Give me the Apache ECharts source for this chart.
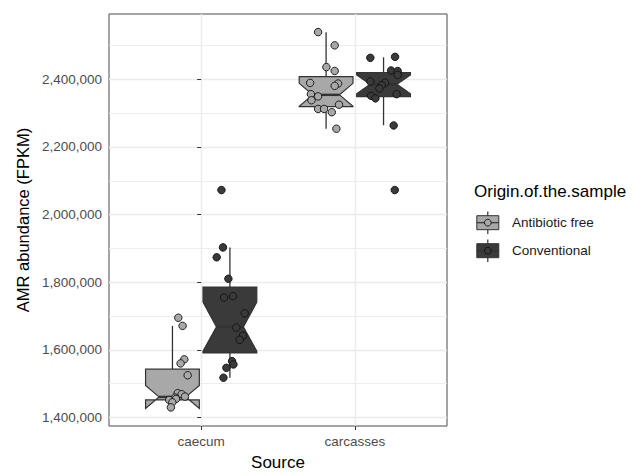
<!DOCTYPE html>
<html>
<head>
<meta charset="utf-8">
<script src="https://cdn.jsdelivr.net/npm/echarts@6/dist/echarts.min.js"></script>
<style>
  html, body { margin: 0; padding: 0; background: #ffffff; }
  #chart { width: 634px; height: 476px; }
</style>
</head>
<body>
<div id="chart"></div>
<script>
// ---------------- data ----------------
const categories = ['caecum', 'carcasses'];
const groups = ['Antibiotic free', 'Conventional'];
const yTickValues = [1400000, 1600000, 1800000, 2000000, 2200000, 2400000];

// box statistics per category: [whiskerLow, q1, notchLow, median, notchHigh, q3, whiskerHigh]
const antibioticFreeBoxes = [
  [1430000, 1452000, 1427000, 1461000, 1495000, 1543000, 1671000],
  [2254000, 2319000, 2320000, 2354000, 2388000, 2408000, 2539000]
];
const conventionalBoxes = [
  [1518000, 1591000, 1596000, 1668000, 1741000, 1786000, 1903000],
  [2264000, 2349000, 2357000, 2385000, 2413000, 2420000, 2465000]
];

// individual samples (values) and their jitter offsets (in category units)
const afCaecumValues = [1695000, 1671000, 1572000, 1560000, 1525000, 1472000, 1469000, 1462000, 1459000, 1455000, 1452000, 1445000, 1430000];
const afCaecumJitter = [0.038, 0.066, 0.077, 0.053, 0.099, 0.034, 0.060, 0.081, 0.018, 0.023, -0.021, -0.001, -0.010];

const convCaecumValues = [2072500, 1903000, 1873700, 1810300, 1758800, 1754700, 1708000, 1666000, 1641800, 1630000, 1566700, 1556900, 1547000, 1517800];
const convCaecumJitter = [-0.055, -0.045, -0.086, -0.010, 0.020, -0.038, 0.096, 0.042, 0.085, 0.064, 0.014, 0.023, -0.023, -0.042];

const afCarcassesValues = [2539500, 2500300, 2436000, 2424600, 2389300, 2387400, 2380500, 2356100, 2349400, 2338000, 2324900, 2312300, 2312300, 2302600, 2253800];
const afCarcassesJitter = [-0.052, 0.056, 0.002, 0.056, -0.104, 0.078, 0.056, -0.099, -0.052, -0.095, 0.084, -0.052, -0.013, 0.037, 0.067];

const convCarcassesValues = [2466300, 2463400, 2426000, 2424300, 2413000, 2393400, 2390000, 2382500, 2372800, 2356100, 2351200, 2343600, 2263500, 2072500];
const convCarcassesJitter = [0.075, -0.086, 0.049, 0.092, 0.092, -0.086, 0.010, -0.012, -0.027, 0.085, -0.081, -0.053, 0.066, 0.073];

// ---------------- styling / layout ----------------
const FONT = '"Liberation Sans", Arial, Helvetica, sans-serif';
const COLORS = ['#a8a8a8', '#3a3a3a'];
const OUTLINE = '#333333';
const DODGE = 0.187;
const BOX_WIDTH = 0.35;
const GRID_COLOR = '#ebebeb';

function fmt(v) {
  return String(Math.round(v)).replace(/\B(?=(\d{3})+(?!\d))/g, ',');
}

function boxData(boxes, offset) {
  return boxes.map((b, i) => [i + offset].concat(b));
}
function pointData(values, jitter, cat, offset) {
  return values.map((v, i) => [cat + offset + jitter[i], v]);
}

function makeRenderer(fill) {
  return function (params, api) {
    const x = api.value(0);
    const lo = api.value(1), q1 = api.value(2), nl = api.value(3), med = api.value(4),
          nu = api.value(5), q3 = api.value(6), hi = api.value(7);
    const cx = api.coord([x, med])[0];
    const halfW = api.coord([x + BOX_WIDTH / 2, med])[0] - cx;
    const Y = v => api.coord([x, v])[1];
    const xmin = cx - halfW, xmax = cx + halfW, inset = halfW / 2;
    const pts = [
      [xmin, Y(q3)], [xmin, Y(nu)], [xmin + inset, Y(med)], [xmin, Y(nl)], [xmin, Y(q1)],
      [xmax, Y(q1)], [xmax, Y(nl)], [xmax - inset, Y(med)], [xmax, Y(nu)], [xmax, Y(q3)]
    ];
    return {
      type: 'group',
      children: [
        { type: 'line', shape: { x1: cx, y1: Y(q3), x2: cx, y2: Y(hi) }, style: { stroke: OUTLINE, lineWidth: 1.3 } },
        { type: 'line', shape: { x1: cx, y1: Y(q1), x2: cx, y2: Y(lo) }, style: { stroke: OUTLINE, lineWidth: 1.3 } },
        { type: 'polygon', shape: { points: pts }, style: { fill: fill, stroke: OUTLINE, lineWidth: 1.2 } },
        { type: 'line', shape: { x1: xmin + inset, y1: Y(med), x2: xmax - inset, y2: Y(med) }, style: { stroke: OUTLINE, lineWidth: 2.4 } }
      ]
    };
  };
}

// gridlines (major at ticks, minor midway)
const gridLines = [];
yTickValues.forEach(v => gridLines.push({ yAxis: v, lineStyle: { width: 1.4 } }));
for (let i = 0; i < yTickValues.length; i++) {
  const step = i + 1 < yTickValues.length ? yTickValues[i + 1] - yTickValues[i] : yTickValues[i] - yTickValues[i - 1];
  gridLines.push({ yAxis: yTickValues[i] + step / 2, lineStyle: { width: 0.9 } });
}
categories.forEach((c, i) => gridLines.push({ xAxis: i, lineStyle: { width: 1.4 } }));

// legend key graphics
const KEY_CX = 487.8;
const KEY_CY = [222.7, 250.7];
const legendGraphics = [];
groups.forEach((g, i) => {
  const cy = KEY_CY[i];
  legendGraphics.push(
    { type: 'line', shape: { x1: KEY_CX, y1: cy - 11.2, x2: KEY_CX, y2: cy + 11.2 }, style: { stroke: OUTLINE, lineWidth: 1.2 }, z: 10 },
    { type: 'rect', shape: { x: KEY_CX - 11, y: cy - 7, width: 22, height: 14 }, style: { fill: COLORS[i], stroke: OUTLINE, lineWidth: 1 }, z: 10 },
    { type: 'line', shape: { x1: KEY_CX - 11, y1: cy, x2: KEY_CX + 11, y2: cy }, style: { stroke: OUTLINE, lineWidth: 1.2 }, z: 11 },
    { type: 'circle', shape: { cx: KEY_CX, cy: cy, r: 3.4 }, style: { fill: COLORS[i], stroke: '#111', lineWidth: 0.9 }, z: 12 }
  );
});

const chart = echarts.init(document.getElementById('chart'), null, { renderer: 'svg' });

const option = {
  animation: false,
  backgroundColor: '#ffffff',
  textStyle: { fontFamily: FONT },
  title: {
    text: 'Origin.of.the.sample',
    left: 474,
    top: 183,
    padding: 0,
    textStyle: { fontSize: 17, fontWeight: 'normal', color: '#000000', fontFamily: FONT }
  },
  legend: {
    orient: 'vertical',
    left: 477,
    top: 208.7,
    padding: 0,
    itemGap: 0,
    itemWidth: 30,
    itemHeight: 28,
    selectedMode: false,
    icon: 'rect',
    itemStyle: { color: 'rgba(0,0,0,0)', borderColor: 'rgba(0,0,0,0)', borderWidth: 0 },
    textStyle: { fontSize: 13.5, color: '#1a1a1a', fontFamily: FONT },
    data: groups
  },
  graphic: legendGraphics,
  grid: {
    left: 109,
    top: 14,
    right: 187,
    bottom: 45.5,
    show: true,
    backgroundColor: '#ffffff',
    borderColor: '#4a4a4a',
    borderWidth: 1
  },
  xAxis: {
    type: 'value',
    min: -0.6,
    max: 1.6,
    name: 'Source',
    nameLocation: 'middle',
    nameGap: 28,
    nameTextStyle: { fontSize: 17, color: '#000000', fontFamily: FONT },
    axisLine: { show: false },
    splitLine: { show: false },
    axisTick: { show: true, customValues: [0, 1], length: 4, lineStyle: { color: '#333333', width: 1 } },
    axisLabel: {
      customValues: [0, 1],
      formatter: v => categories[Math.round(v)],
      margin: 8,
      fontSize: 13.5,
      color: '#4d4d4d',
      fontFamily: FONT
    }
  },
  yAxis: {
    type: 'value',
    min: 1375000,
    max: 2593000,
    name: 'AMR abundance (FPKM)',
    nameLocation: 'middle',
    nameGap: 76,
    nameRotate: 90,
    nameTextStyle: { fontSize: 16.5, color: '#000000', fontFamily: FONT },
    axisLine: { show: false },
    splitLine: { show: false },
    axisTick: { show: true, customValues: yTickValues, length: 4, lineStyle: { color: '#333333', width: 1 } },
    axisLabel: {
      customValues: yTickValues,
      formatter: v => fmt(v),
      margin: 7,
      fontSize: 13.5,
      color: '#4d4d4d',
      fontFamily: FONT
    }
  },
  series: [
    {
      type: 'line',
      name: '_grid',
      data: [],
      silent: true,
      z: 0,
      markLine: {
        silent: true,
        z: 0,
        symbol: ['none', 'none'],
        label: { show: false },
        lineStyle: { color: GRID_COLOR, type: 'solid' },
        emphasis: { disabled: true },
        data: gridLines
      }
    },
    {
      type: 'custom',
      name: groups[0],
      renderItem: makeRenderer(COLORS[0]),
      data: boxData(antibioticFreeBoxes, -DODGE),
      encode: { x: 0, y: [1, 2, 3, 4, 5, 6, 7] },
      itemStyle: { color: COLORS[0] },
      z: 6,
      silent: true
    },
    {
      type: 'custom',
      name: groups[1],
      renderItem: makeRenderer(COLORS[1]),
      data: boxData(conventionalBoxes, DODGE),
      encode: { x: 0, y: [1, 2, 3, 4, 5, 6, 7] },
      itemStyle: { color: COLORS[1] },
      z: 6,
      silent: true
    },
    {
      type: 'scatter',
      name: groups[0],
      data: pointData(afCaecumValues, afCaecumJitter, 0, -DODGE)
        .concat(pointData(afCarcassesValues, afCarcassesJitter, 1, -DODGE)),
      symbolSize: 7.5,
      itemStyle: { color: COLORS[0], borderColor: '#111111', borderWidth: 0.9, opacity: 1 },
      z: 7,
      silent: true
    },
    {
      type: 'scatter',
      name: groups[1],
      data: pointData(convCaecumValues, convCaecumJitter, 0, DODGE)
        .concat(pointData(convCarcassesValues, convCarcassesJitter, 1, DODGE)),
      symbolSize: 7.5,
      itemStyle: { color: COLORS[1], borderColor: '#111111', borderWidth: 0.9, opacity: 1 },
      z: 7,
      silent: true
    }
  ]
};

chart.setOption(option);
</script>
</body>
</html>
